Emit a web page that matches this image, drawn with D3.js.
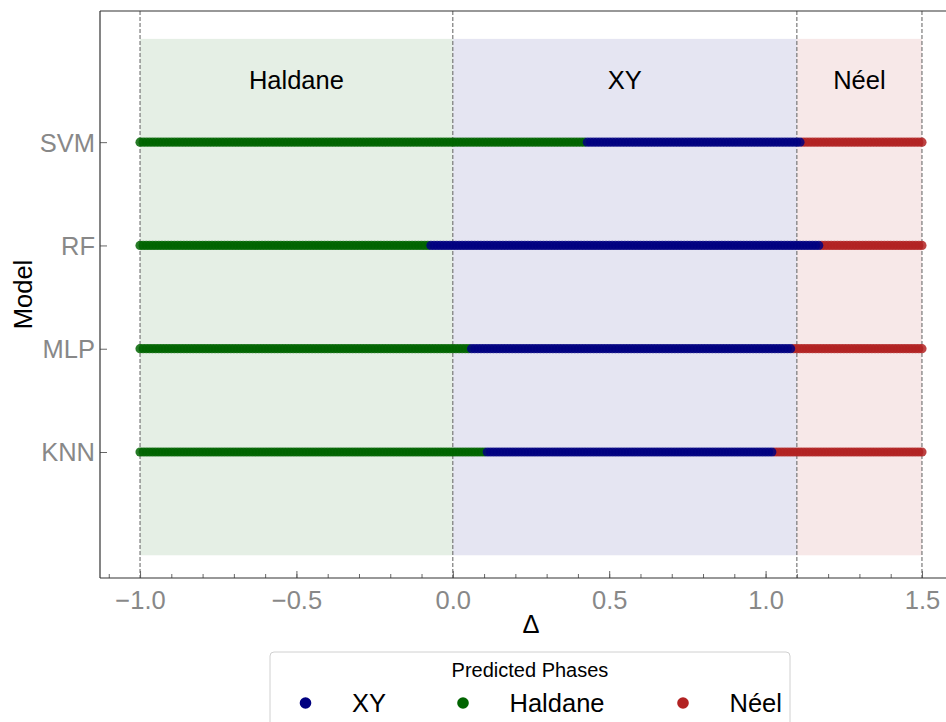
<!DOCTYPE html>
<html>
<head>
<meta charset="utf-8">
<script src="https://cdn.jsdelivr.net/npm/d3@7"></script>
<style>
  html, body { margin: 0; padding: 0; background: #fff; }
  svg { display: block; font-family: "Liberation Sans", Arial, sans-serif; }
</style>
</head>
<body>
<svg id="chart" width="946" height="722"></svg>
<script>
// Models, bottom to top
const models = ["KNN", "MLP", "RF", "SVM"];

// Predicted phase boundaries along the Δ sweep for each model:
// Haldane below the first value, XY between, Néel above the second
const haldaneToXY = { KNN: 0.105, MLP: 0.055, RF: -0.07, SVM: 0.425 };
const xyToNeel    = { KNN: 1.025, MLP: 1.085, RF: 1.175, SVM: 1.115 };

// Swept Δ values
const deltaStart = -1.0, deltaEnd = 1.5, deltaStep = 0.01;

// True phase regions
const regions = [
  { name: "Haldane", from: -1.0, to: 0.0, key: "Haldane" },
  { name: "XY",      from: 0.0,  to: 1.1, key: "XY" },
  { name: "Néel",    from: 1.1,  to: 1.5, key: "Néel" }
];
const boundaries = [-1.0, 0.0, 1.1, 1.5];

const phases = ["XY", "Haldane", "Néel"];
const phaseColor = { "XY": "#000080", "Haldane": "#006400", "Néel": "#b22222" };

const xMajor = [-1.0, -0.5, 0.0, 0.5, 1.0, 1.5];
const xMinor = d3.range(-11, 17).map(i => i / 10);

// ---- layout ----
const svg = d3.select("#chart");
const plotL = 100, plotR = 962, plotT = 11, plotB = 578;
const fontBig = 25.5;

const x = d3.scaleLinear().domain([-1.128, 1.628]).range([plotL, plotR]);
const y = d3.scaleLinear().domain([-1.22, 4.27]).range([plotB, plotT]);
const yPos = m => y(models.indexOf(m));

// shaded phase regions
svg.append("g").selectAll("rect").data(regions).join("rect")
  .attr("x", d => x(d.from)).attr("width", d => x(d.to) - x(d.from))
  .attr("y", y(4)).attr("height", y(-1) - y(4))
  .attr("fill", d => phaseColor[d.key]).attr("fill-opacity", 0.1);

// region labels
svg.append("g").selectAll("text").data(regions).join("text")
  .attr("x", d => x((d.from + d.to) / 2)).attr("y", 89)
  .attr("text-anchor", "middle").attr("font-size", fontBig).attr("fill", "#000")
  .text(d => d.name);

// dashed boundaries
svg.append("g").selectAll("line").data(boundaries).join("line")
  .attr("x1", d => x(d)).attr("x2", d => x(d))
  .attr("y1", plotT).attr("y2", plotB)
  .attr("stroke", "#6e6e6e").attr("stroke-width", 1.1).attr("stroke-dasharray", "4,2");

// sampled predictions
const nSteps = Math.round((deltaEnd - deltaStart) / deltaStep);
const sweep = d3.range(nSteps + 1).map(i => +(deltaStart + i * deltaStep).toFixed(3));
const phaseOf = (m, d) => d < haldaneToXY[m] ? "Haldane" : (d <= xyToNeel[m] ? "XY" : "Néel");
const points = [];
models.forEach(m => sweep.forEach(d => points.push({ model: m, delta: d, phase: phaseOf(m, d) })));

// draw order: Néel, Haldane, then XY on top
["Néel", "Haldane", "XY"].forEach(p => {
  svg.append("g").selectAll("circle").data(points.filter(q => q.phase === p)).join("circle")
    .attr("cx", d => x(d.delta)).attr("cy", d => yPos(d.model)).attr("r", 4.6)
    .attr("fill", phaseColor[p]).attr("fill-opacity", 0.85);
});

// ---- axes ----
const xAxis = svg.append("g").attr("transform", `translate(0,${plotB})`);
xAxis.call(d3.axisBottom(x).tickValues(xMinor).tickSize(-4).tickFormat(""));
xAxis.call(g => g.select(".domain").remove());
const xAxisMajor = svg.append("g").attr("transform", `translate(0,${plotB})`)
  .call(d3.axisBottom(x).tickValues(xMajor).tickSize(-7).tickPadding(13)
    .tickFormat(d => d3.format(".1f")(d).replace("-", "\u2212")));
xAxisMajor.select(".domain").remove();
svg.selectAll(".tick line").attr("stroke", "#666");
xAxisMajor.selectAll("text").attr("font-size", fontBig).attr("fill", "#888").attr("font-family", null);

const yAxis = svg.append("g").attr("transform", `translate(${plotL},0)`)
  .call(d3.axisLeft(y).tickValues(models.map((m, i) => i)).tickSize(-7).tickPadding(5)
    .tickFormat(i => models[i]));
yAxis.select(".domain").remove();
yAxis.selectAll(".tick line").attr("stroke", "#666");
yAxis.selectAll("text").attr("font-size", fontBig).attr("fill", "#888").attr("font-family", null)
  .attr("dy", "0.35em");

// spines
const spines = [
  [plotL, plotT, plotL, plotB], [plotL, plotB, plotR, plotB],
  [plotL, plotT, plotR, plotT], [plotR, plotT, plotR, plotB]
];
svg.append("g").selectAll("line").data(spines).join("line")
  .attr("x1", d => d[0]).attr("y1", d => d[1]).attr("x2", d => d[2]).attr("y2", d => d[3])
  .attr("stroke", "#333").attr("stroke-width", 1.2);

// axis titles
svg.append("text").attr("x", (plotL + plotR) / 2).attr("y", 633)
  .attr("text-anchor", "middle").attr("font-size", fontBig).text("Δ");
svg.append("text").attr("transform", `translate(32,${(plotT + plotB) / 2}) rotate(-90)`)
  .attr("text-anchor", "middle").attr("font-size", fontBig).text("Model");

// ---- legend ----
const lg = svg.append("g");
lg.append("rect").attr("x", 270).attr("y", 652).attr("width", 520).attr("height", 90)
  .attr("rx", 4).attr("fill", "#fff").attr("stroke", "#d0d0d0");
lg.append("text").attr("x", 530).attr("y", 677).attr("text-anchor", "middle")
  .attr("font-size", 20).text("Predicted Phases");
const legendX = { "XY": 305.5, "Haldane": 463, "Néel": 683 };
phases.forEach(p => {
  lg.append("circle").attr("cx", legendX[p]).attr("cy", 703).attr("r", 5.8).attr("fill", phaseColor[p]);
  lg.append("text").attr("x", legendX[p] + 46.5).attr("y", 712).attr("font-size", fontBig).text(p);
});
</script>
</body>
</html>
